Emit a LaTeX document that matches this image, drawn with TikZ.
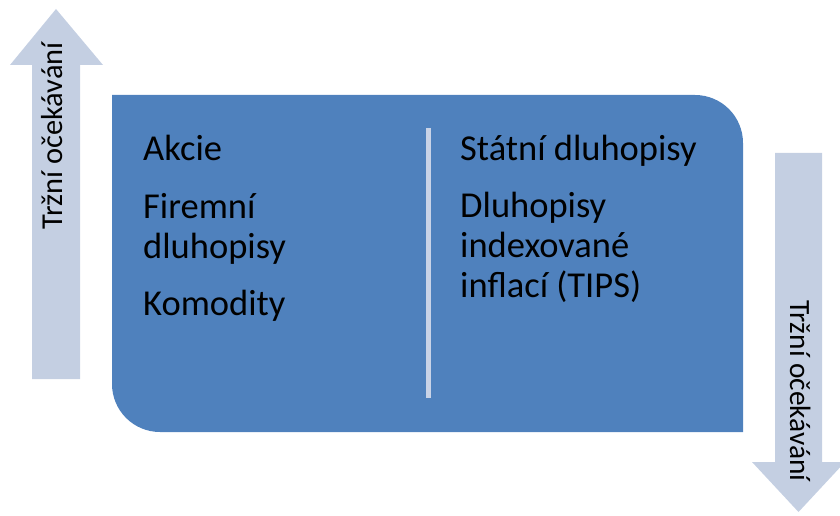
\documentclass[tikz,border=0pt]{standalone}
\usepackage{fontspec}
\setmainfont{Carlito}
\usetikzlibrary{positioning}
\definecolor{boxBlue}{HTML}{4F81BD}
\definecolor{arrowGray}{HTML}{C4CFE2}
\definecolor{lineGray}{HTML}{C9D3E7}

\begin{document}
\begin{tikzpicture}[x=1pt, y=1pt, font=\fontsize{36.5}{40}\selectfont,
    item/.style={anchor=base west, inner sep=0pt, align=left},
    arrowtext/.style={anchor=base west, inner sep=0pt}]
    \useasboundingbox (0,0) rectangle (840,515);
    \clip (0,0) rectangle (840,515);
    % up arrow, left
    \fill[arrowGray] (32,136) -- (32,450) -- (10,450) -- (56,506) -- (103,450) -- (80,450) -- (80,136) -- cycle;
    \node[arrowtext, rotate=90, font=\fontsize{30.4}{36}\selectfont] (upText) at (62,285) {Tržní očekávání};
    % down arrow, right
    \fill[arrowGray] (775,362) -- (775,53) -- (752,53) -- (798.5,3) -- (845,53) -- (822,53) -- (822,362) -- cycle;
    \node[arrowtext, rotate=-90, font=\fontsize{29.4}{35}\selectfont] (downText) at (790,215) {Tržní očekávání};
    % main box
    \fill[boxBlue] (112,420) -- (695,420) arc[start angle=90, end angle=0, radius=48]
      -- (743,83) -- (160,83) arc[start angle=270, end angle=180, radius=48] -- cycle;
    \draw[lineGray, line width=5pt] (428.5,387) -- (428.5,117);
    % left column
    \node[item] (akcie) at (143,355) {Akcie};
    \node[item] (firemni) at (143,257) {Firemní\\dluhopisy};
    \node[item] (komodity) at (143,200) {Komodity};
    % right column
    \node[item] (statni) at (460,355) {Státní dluhopisy};
    \node[item] (tips) at (460,218) {Dluhopisy\\indexované\\inflací (TIPS)};
  \end{tikzpicture}
\end{document}
